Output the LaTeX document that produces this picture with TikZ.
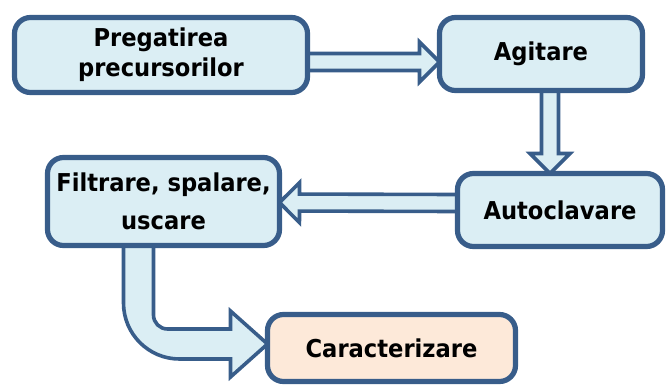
\documentclass[tikz,border=0pt]{standalone}
\usepackage{fontspec}
\setmainfont{DejaVu Sans}[FakeStretch=0.92]
\usetikzlibrary{calc,backgrounds}

\definecolor{edgeblue}{HTML}{385D8A}
\definecolor{paleblue}{HTML}{DBEEF4}
\definecolor{palepeach}{HTML}{FDE9D9}

\tikzset{
  box/.style={draw=edgeblue, fill=paleblue, line width=2.6pt, rounded corners=8pt,
    outer sep=0pt, inner sep=2pt, align=center,
    font=\bfseries\fontsize{12.3}{15}\selectfont},
  flow/.style={draw=edgeblue, fill=paleblue, line width=1.8pt, line join=miter},
}

\begin{document}
\begin{tikzpicture}[x=0.5pt,y=-0.5pt]
\useasboundingbox (0,0) rectangle (670,387);

% the steps
\node[box, minimum width=146.5pt, minimum height=37.5pt] (prep) at (161,55) {Pregatirea\\precursorilor};
\node[box, minimum width=101.5pt, minimum height=36.5pt] (agit) at (541,54) {Agitare};
\node[box, minimum width=102.5pt, minimum height=36.5pt] (autoc) at (560,210) {Autoclavare};
\node[box, minimum width=116pt, minimum height=44pt] (filt) at (163.5,201.5) {Filtrare, spalare,\\[4pt]uscare};
\node[box, fill=palepeach, minimum width=124pt, minimum height=33.5pt] (carac) at (391.5,348) {Caracterizare};

% ends of the straight arrows
\coordinate (a1) at ($(prep.east)+(0,7)$);
\coordinate (a2) at ($(agit.west)+(0,8)$);
\coordinate (b1) at ($(agit.south)+(9,0)$);
\coordinate (b2) at ($(autoc.north)+(-10,0)$);
\coordinate (c1) at ($(autoc.west)+(0,-7)$);
\coordinate (c2) at ($(filt.east)+(0,1)$);
% ends of the bent arrow
\coordinate (bt) at ($(filt.south)+(-25,0)$);
\coordinate (bh) at ($(carac.west)+(0,-4)$);

\begin{scope}[on background layer]
\foreach \s/\e in {a1/a2,b1/b2,c1/c2} {
  \coordinate (h) at ($(\e)!10pt!(\s)$);
  \draw[flow] ($(\s)!4.25pt!90:(\e)$) -- ($(h)!4.25pt!90:(\e)$) -- ($(h)!10pt!90:(\e)$)
    -- (\e) -- ($(h)!10pt!-90:(\e)$) -- ($(h)!4.25pt!-90:(\e)$) -- ($(\s)!4.25pt!-90:(\e)$) -- cycle;
}

\draw[flow] ($(bt)+(15,0)$) [rounded corners=7pt] -- ($(bt|-bh)+(15,-15)$) [sharp corners]
  -- ($(bh)+(-37,-15)$) -- ($(bh)+(-37,-33)$) -- (bh) -- ($(bh)+(-37,33)$) -- ($(bh)+(-37,15)$)
  [rounded corners=28pt] -- ($(bt|-bh)+(-15,15)$) [sharp corners] -- ($(bt)+(-15,0)$) -- cycle;
\end{scope}
\end{tikzpicture}
\end{document}
